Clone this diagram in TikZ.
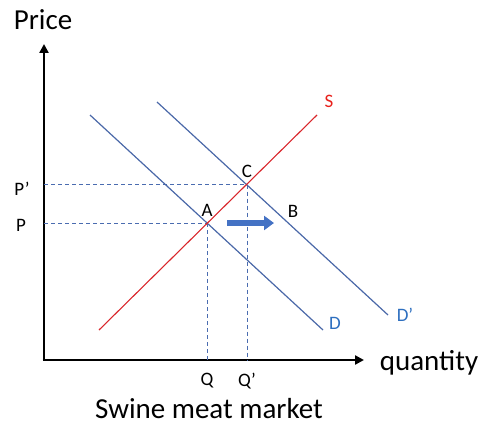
\documentclass[tikz,border=0pt]{standalone}
\usepackage{fontspec}
\setmainfont{Carlito}
\usetikzlibrary{arrows.meta}
\definecolor{dline}{HTML}{4A68A8}
\definecolor{sline}{HTML}{D9262B}
\definecolor{dashc}{HTML}{4A6CB0}
\definecolor{lblblue}{HTML}{2E6FBF}
\definecolor{lblred}{HTML}{E8201B}
\definecolor{shiftc}{HTML}{4472C4}
\begin{document}
\begin{tikzpicture}[x=1pt,y=-1pt,
  axis/.style={line width=2.8pt,-{Triangle[length=9pt,width=9pt]}},
  demand/.style={draw=dline,line width=1.2pt},
  supply/.style={draw=sline,line width=1.1pt},
  guide/.style={draw=dashc,line width=0.8pt,dash pattern=on 4pt off 3pt},
  pt/.style={font=\fontsize{19}{22}\selectfont,text=black,inner sep=0pt},
  big/.style={font=\fontsize{29}{33}\selectfont,text=black,inner sep=0pt}]
\useasboundingbox (0,0) rectangle (481,425);
% axes
\coordinate (O) at (44,360);
\coordinate (ytip) at (44,44);
\coordinate (xtip) at (364,360);
\draw[axis] (O) -- (ytip);
\draw[axis] ([xshift=-1.4pt]O) -- (xtip);
% curves
\coordinate (D1) at (90,115);
\coordinate (D2) at (323,330);
\coordinate (Dp1) at (157,102);
\coordinate (Dp2) at (388,315);
\coordinate (S1) at (99,330);
\coordinate (S2) at (317,115);
\coordinate (A) at (207,223);
\coordinate (C) at (247,184.5);
\coordinate (Pax) at (44,223);
\coordinate (Ppax) at (44,184.5);
\coordinate (Qax) at (207,360);
\coordinate (Qpax) at (247,360);
\draw[guide] (Pax) -- (A);
\draw[guide] (Ppax) -- (C);
\draw[guide] (A) -- (Qax);
\draw[guide] (C) -- (Qpax);
\draw[demand] (D1) -- (D2);
\draw[demand] (Dp1) -- (Dp2);
\draw[supply] (S1) -- (S2);
% shift arrow
\coordinate (sh1) at (227,223);
\coordinate (sh2) at (274,223);
\draw[draw=shiftc,line width=5.5pt,-{Triangle[length=10pt,width=14pt]}] (sh1) -- (sh2);
% labels
\node[big] (price) at (43,20) {Price};
\node[big] (qty) at (429,363) {quantity};
\node[big,anchor=base] (title) at (209,418) {Swine meat market};
\node[pt] (lA) at (207,210) {A};
\node[pt] (lB) at (293,211) {B};
\node[pt] (lC) at (247,171) {C};
\node[pt] (lP) at (21,225) {P};
\node[pt] (lPp) at (22,189) {P’};
\node[pt] (lQ) at (207,381) {Q};
\node[pt] (lQp) at (247,381) {Q’};
\node[pt,text=lblred] (lS) at (329,101) {S};
\node[pt,text=lblblue] (lD) at (335,323) {D};
\node[pt,text=lblblue] (lDp) at (405,315) {D’};
\end{tikzpicture}
\end{document}
